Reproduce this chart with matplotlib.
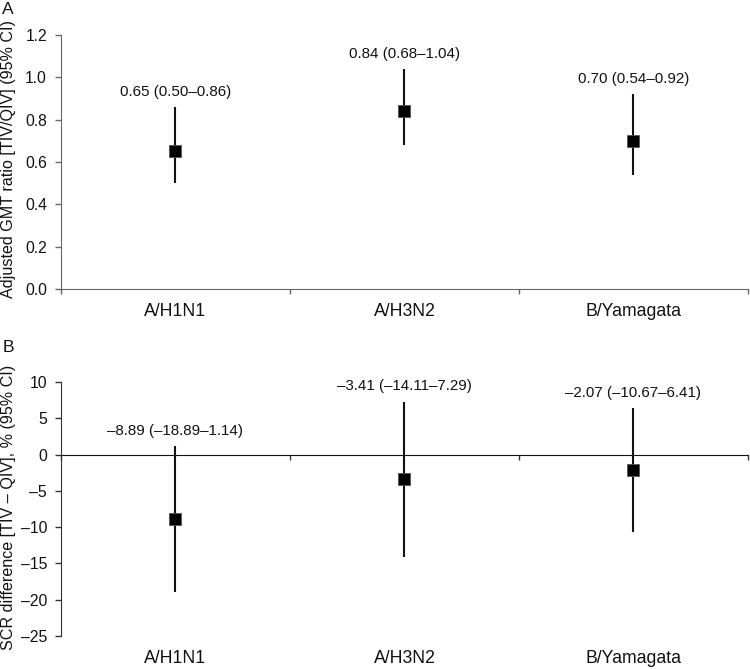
import numpy as np
import matplotlib
matplotlib.use('Agg')
import matplotlib.pyplot as plt

plt.rcParams['font.family'] = ['Liberation Sans', 'DejaVu Sans']

# strains
strains = ['A/H1N1', 'A/H3N2', 'B/Yamagata']

# panel A: adjusted GMT ratio TIV/QIV
gmt = [0.65, 0.84, 0.70]
gmt_lo = [0.50, 0.68, 0.54]
gmt_hi = [0.86, 1.04, 0.92]

# panel B: SCR difference TIV - QIV, %
scr = [-8.89, -3.41, -2.07]
scr_lo = [-18.89, -14.11, -10.67]
scr_hi = [1.14, 7.29, 6.41]

DASH = '\u2013'


def fmt(v):
    s = '%.2f' % v
    return s.replace('-', DASH)


def draw(ax, val, lo, hi, spine_col):
    x = np.arange(len(val))
    val = np.asarray(val); lo = np.asarray(lo); hi = np.asarray(hi)
    ax.errorbar(x, val, yerr=[val - lo, hi - val], fmt='s', color='black',
                ecolor='#111111', elinewidth=1.5, capsize=0,
                markersize=8.5, markeredgecolor='#555555', markeredgewidth=0.6,
                zorder=3)
    for xi, v, l, h in zip(x, val, lo, hi):
        ax.annotate('%s (%s%s%s)' % (fmt(v), fmt(l), DASH, fmt(h)),
                    (xi, h), xytext=(0, 6), textcoords='offset points',
                    ha='center', va='bottom', fontsize=10.9, color='#111111')
    ax.set_xlim(-0.5, len(val) - 0.5)
    ax.set_xticks(np.arange(len(val) + 1) - 0.5)
    ax.set_xticklabels([])
    ax.tick_params(axis='x', direction='out', length=3.5, width=1, color=spine_col)
    ax.tick_params(axis='y', direction='out', length=4.5, width=1, color=spine_col,
                   labelsize=11.3, pad=5.5, labelcolor='#111111')
    for s in ['top', 'right']:
        ax.spines[s].set_visible(False)
    ax.spines['left'].set_color(spine_col)
    ax.spines['bottom'].set_color(spine_col)
    for xi, name in zip(x, strains):
        ax.text(xi, -0.09, name, transform=ax.get_xaxis_transform(),
                ha='center', va='center', fontsize=12.7, color='#111111')


fig = plt.figure(figsize=(7.5, 6.69), dpi=100)

axA = fig.add_axes([0.0813, 0.568, 0.916, 0.3797])
draw(axA, gmt, gmt_lo, gmt_hi, '#666666')
axA.set_ylim(0, 1.2)
axA.set_yticks(np.arange(0, 1.21, 0.2))
axA.set_yticklabels(['%.1f' % t for t in np.arange(0, 1.21, 0.2)])
axA.set_ylabel('Adjusted GMT ratio [TIV/QIV] (95% CI)', fontsize=11.6, color='#111111')
axA.yaxis.set_label_coords(-0.066, 0.512)

axB = fig.add_axes([0.0813, 0.0493, 0.916, 0.3797])
draw(axB, scr, scr_lo, scr_hi, '#333333')
axB.set_ylim(-25, 10)
axB.set_yticks(np.arange(-25, 11, 5))
axB.set_yticklabels([str(t).replace('-', DASH) for t in range(-25, 11, 5)])
axB.spines['bottom'].set_position(('data', 0))
axB.spines['bottom'].set_color('#111111')
axB.set_ylabel('SCR difference [TIV ' + DASH + ' QIV], % (95% CI)', fontsize=11.6,
               color='#111111')
axB.yaxis.set_label_coords(-0.066, 0.506)

fig.text(0.003, 0.986, 'A', fontsize=12.5, ha='left', va='center', color='#111111')
fig.text(0.003, 0.481, 'B', fontsize=12.5, ha='left', va='center', color='#111111')

fig.savefig('out.png', dpi=100)
